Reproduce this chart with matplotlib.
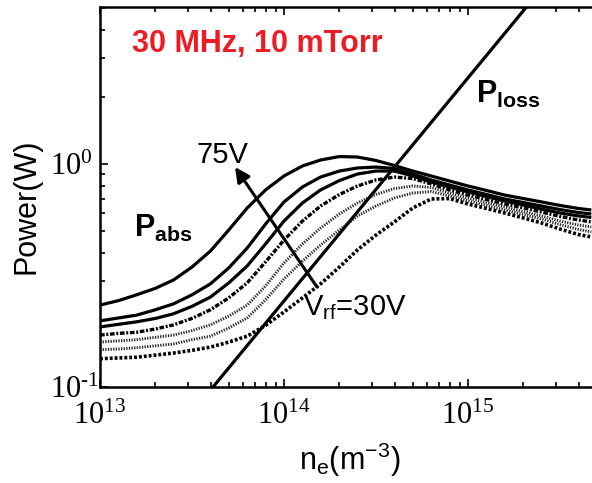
import numpy as np
import matplotlib
matplotlib.use("Agg")
import matplotlib.pyplot as plt
from matplotlib.ticker import FixedLocator, LogLocator, NullFormatter

plt.rcParams['font.family'] = ['Liberation Sans', 'DejaVu Sans']
plt.rcParams['mathtext.fontset'] = 'custom'
plt.rcParams['mathtext.rm'] = 'Liberation Sans'
plt.rcParams['mathtext.it'] = 'Liberation Sans:italic'
plt.rcParams['mathtext.bf'] = 'Liberation Sans:bold'
plt.rcParams['mathtext.default'] = 'regular'

# electron density (m^-3)
ne = [1.00e13, 1.26e13, 1.58e13, 2.00e13, 2.51e13, 3.16e13, 3.98e13,
      5.01e13, 6.31e13, 7.94e13, 1.00e14, 1.26e14, 1.58e14, 2.00e14,
      2.51e14, 3.16e14, 3.98e14, 5.01e14, 6.31e14, 7.94e14, 1.00e15,
      1.26e15, 1.58e15, 2.00e15, 2.51e15, 3.16e15, 3.98e15, 4.68e15]

# absorbed power (W), one curve per rf voltage, from 75 V down to 30 V
vrf = [75, 67.5, 60, 52.5, 45, 37.5, 30]
p_abs_75 = [0.233, 0.244, 0.259, 0.277, 0.302, 0.345, 0.407, 0.506, 0.635, 0.765,
            0.884, 0.980, 1.042, 1.080, 1.075, 1.037, 0.985, 0.930, 0.884, 0.839,
            0.797, 0.761, 0.726, 0.700, 0.676, 0.652, 0.632, 0.622]
p_abs_67 = [0.198, 0.204, 0.210, 0.222, 0.236, 0.259, 0.290, 0.342, 0.420, 0.538,
            0.676, 0.789, 0.874, 0.930, 0.960, 0.969, 0.955, 0.902, 0.848, 0.805,
            0.765, 0.730, 0.697, 0.672, 0.648, 0.625, 0.606, 0.597]
p_abs_60 = [0.186, 0.191, 0.196, 0.203, 0.213, 0.230, 0.253, 0.293, 0.349, 0.438,
            0.555, 0.669, 0.765, 0.843, 0.902, 0.930, 0.930, 0.884, 0.830, 0.789,
            0.749, 0.715, 0.683, 0.655, 0.628, 0.603, 0.585, 0.576]
p_abs_52 = [0.171, 0.174, 0.176, 0.182, 0.190, 0.203, 0.222, 0.251, 0.293, 0.364,
            0.456, 0.555, 0.648, 0.730, 0.797, 0.848, 0.874, 0.861, 0.814, 0.765,
            0.726, 0.693, 0.662, 0.635, 0.609, 0.582, 0.561, 0.550]
p_abs_45 = [0.159, 0.161, 0.163, 0.167, 0.171, 0.179, 0.190, 0.208, 0.233, 0.284,
            0.360, 0.438, 0.516, 0.597, 0.669, 0.730, 0.776, 0.797, 0.785, 0.741,
            0.704, 0.672, 0.642, 0.612, 0.585, 0.555, 0.533, 0.522]
p_abs_37 = [0.147, 0.148, 0.150, 0.153, 0.156, 0.163, 0.169, 0.184, 0.204, 0.246,
            0.305, 0.367, 0.433, 0.506, 0.585, 0.648, 0.704, 0.741, 0.753, 0.719,
            0.683, 0.652, 0.622, 0.594, 0.567, 0.535, 0.509, 0.496]
p_abs_30 = [0.134, 0.135, 0.136, 0.139, 0.142, 0.146, 0.151, 0.159, 0.169, 0.189,
            0.217, 0.251, 0.290, 0.345, 0.412, 0.480, 0.550, 0.635, 0.697, 0.700,
            0.662, 0.632, 0.603, 0.573, 0.544, 0.511, 0.483, 0.471]
p_abs = [p_abs_75, p_abs_67, p_abs_60, p_abs_52, p_abs_45, p_abs_37, p_abs_30]

# power loss (W), linear in density
ne_loss = [1.0e13, 4.68e15]
p_loss = [0.0243, 11.4]

xtick_vals = [1e13, 1e14, 1e15]
xtick_labels = [r'$10^{13}$', r'$10^{14}$', r'$10^{15}$']
ytick_vals = [1e-1, 1e0]
ytick_labels = ['$10^{\u2010 1}$', r'$10^{0}$']

styles = [
    dict(color='black', lw=2.3, ls='-'),
    dict(color='black', lw=2.3, ls='-'),
    dict(color='black', lw=2.3, ls='-'),
    dict(color='black', lw=2.4, ls=(0, (1.4, 0.5, 0.6, 0.5))),
    dict(color='#2a2a2a', lw=2.1, ls=(0, (0.45, 0.45))),
    dict(color='#2a2a2a', lw=2.1, ls=(0, (0.45, 0.45))),
    dict(color='black', lw=2.6, ls=(0, (0.8, 0.55))),
]

W, H = 592, 483
fig = plt.figure(figsize=(W / 100, H / 100), dpi=100)
ax = fig.add_axes([100 / W, 1 - 387 / H, 1 - 100 / W, 380 / H])

for vals, st in zip(p_abs, styles):
    ax.plot(ne, vals, solid_capstyle='butt', dash_capstyle='butt',
            solid_joinstyle='round', **st)
ax.plot(ne_loss, p_loss, color='black', lw=2.3)

ax.set_xscale('log')
ax.set_yscale('log')
ax.set_xlim(1e13, 10 ** 15.674)
ax.set_ylim(0.1, 5.06)

serif = dict(fontsize=22, fontfamily='Liberation Serif')
ax.xaxis.set_major_locator(FixedLocator(xtick_vals))
ax.yaxis.set_major_locator(FixedLocator(ytick_vals))
ax.xaxis.set_minor_locator(LogLocator(base=10, subs=np.arange(2, 10)))
ax.yaxis.set_minor_locator(LogLocator(base=10, subs=np.arange(2, 10)))
ax.xaxis.set_minor_formatter(NullFormatter())
ax.yaxis.set_minor_formatter(NullFormatter())
ax.set_xticklabels(xtick_labels, **serif)
ax.set_yticklabels(ytick_labels, ha='left', **serif)

ax.tick_params(which='both', direction='in', top=True, right=False, width=1.2)
ax.tick_params(which='major', length=6)
ax.tick_params(which='minor', length=3.5)
ax.tick_params(axis='x', pad=10.5)
ax.tick_params(axis='y', pad=36)

for side in ('left', 'bottom', 'top'):
    ax.spines[side].set_linewidth(1.8)
ax.spines['right'].set_visible(False)

fig.text(27 / W, 1 - 206 / H, 'Power(W)', fontsize=22, rotation=90,
         ha='center', va='center')
fig.text(350 / W, 1 - 470 / H, r'n$_e$(m$^{-3}$)', fontsize=22,
         ha='center', va='baseline')

fig.text(132 / W, 1 - 52 / H, '30 MHz, 10 mTorr', fontsize=22,
         fontweight='bold', color='#ED1C24', va='baseline')
fig.text(134 / W, 1 - 237 / H, r'$\mathbf{P}_{\mathbf{abs}}$', fontsize=22,
         va='baseline')
fig.text(476 / W, 1 - 103 / H, r'$\mathbf{P}_{\mathbf{loss}}$', fontsize=22,
         va='baseline')
fig.text(197 / W, 1 - 163 / H, '75V', fontsize=21, va='baseline')
fig.text(303 / W, 1 - 315 / H, r'V$_{rf}$=30V', fontsize=21, va='baseline')

ax.annotate('', xy=(5.42e13, 0.969), xytext=(1.51e14, 0.281),
            arrowprops=dict(arrowstyle='-|>', color='black', lw=2.2,
                            mutation_scale=22, shrinkA=0, shrinkB=0))

fig.savefig('out.png', dpi=100)
